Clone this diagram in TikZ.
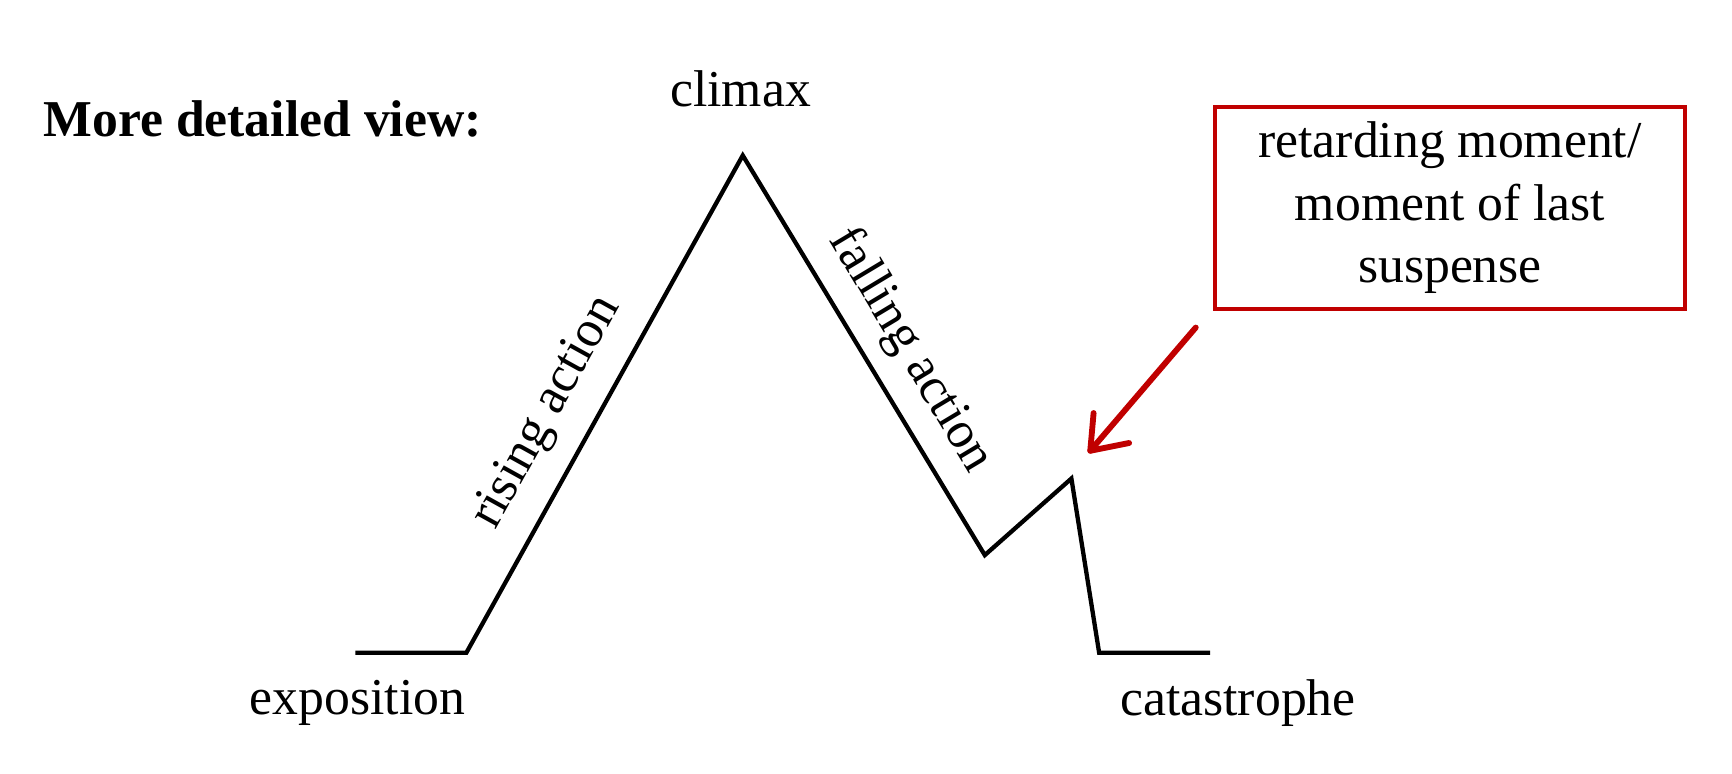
\documentclass[tikz,border=0pt]{standalone}
\usepackage{fontspec}
\setmainfont{Liberation Serif}
\definecolor{boxred}{RGB}{192,0,0}
\begin{document}
\begin{tikzpicture}[x=0.02cm,y=-0.02cm,
  lbl/.style={font=\fontsize{26.5}{30}\selectfont},
  plot/.style={line width=2.2pt,line join=miter},
  redbox/.style={draw=boxred,line width=2pt,align=center,font=\fontsize{26.5}{32}\selectfont}]
\useasboundingbox (0,0) rectangle (1560,697);
\coordinate (s) at (320,588);
\coordinate (e) at (420,588);
\coordinate (c) at (669,140);
\coordinate (v) at (887,500);
\coordinate (r) at (965,431);
\coordinate (f) at (990,588);
\coordinate (t) at (1090,588);
\draw[plot] (s) -- (e) -- (c) -- (v) -- (r) -- (f) -- (t);
\node[anchor=west,font=\fontsize{26.5}{30}\selectfont\bfseries] (title) at (33,107) {More detailed view:};
\node[lbl] (climax) at (667,80) {climax};
\node[lbl] (expo) at (322,633) {exposition};
\node[lbl] (cat) at (1115,633) {catastrophe};
\node[lbl,rotate=61] (rise) at (493,372) {rising action};
\node[lbl,rotate=-59] (fall) at (820,316) {falling action};
\node[redbox,minimum width=424*0.02cm,minimum height=182*0.02cm] (box) at (1306,187) {retarding moment/\\moment of last\\suspense};
\coordinate (a0) at (1077,295);
\coordinate (a1) at (982,406);
\draw[boxred,line width=3pt,line cap=round] (a0) -- (a1);
\draw[boxred,line width=3pt,line cap=round,line join=round] (985,372) -- (a1) -- (1017,399);
\end{tikzpicture}
\end{document}
